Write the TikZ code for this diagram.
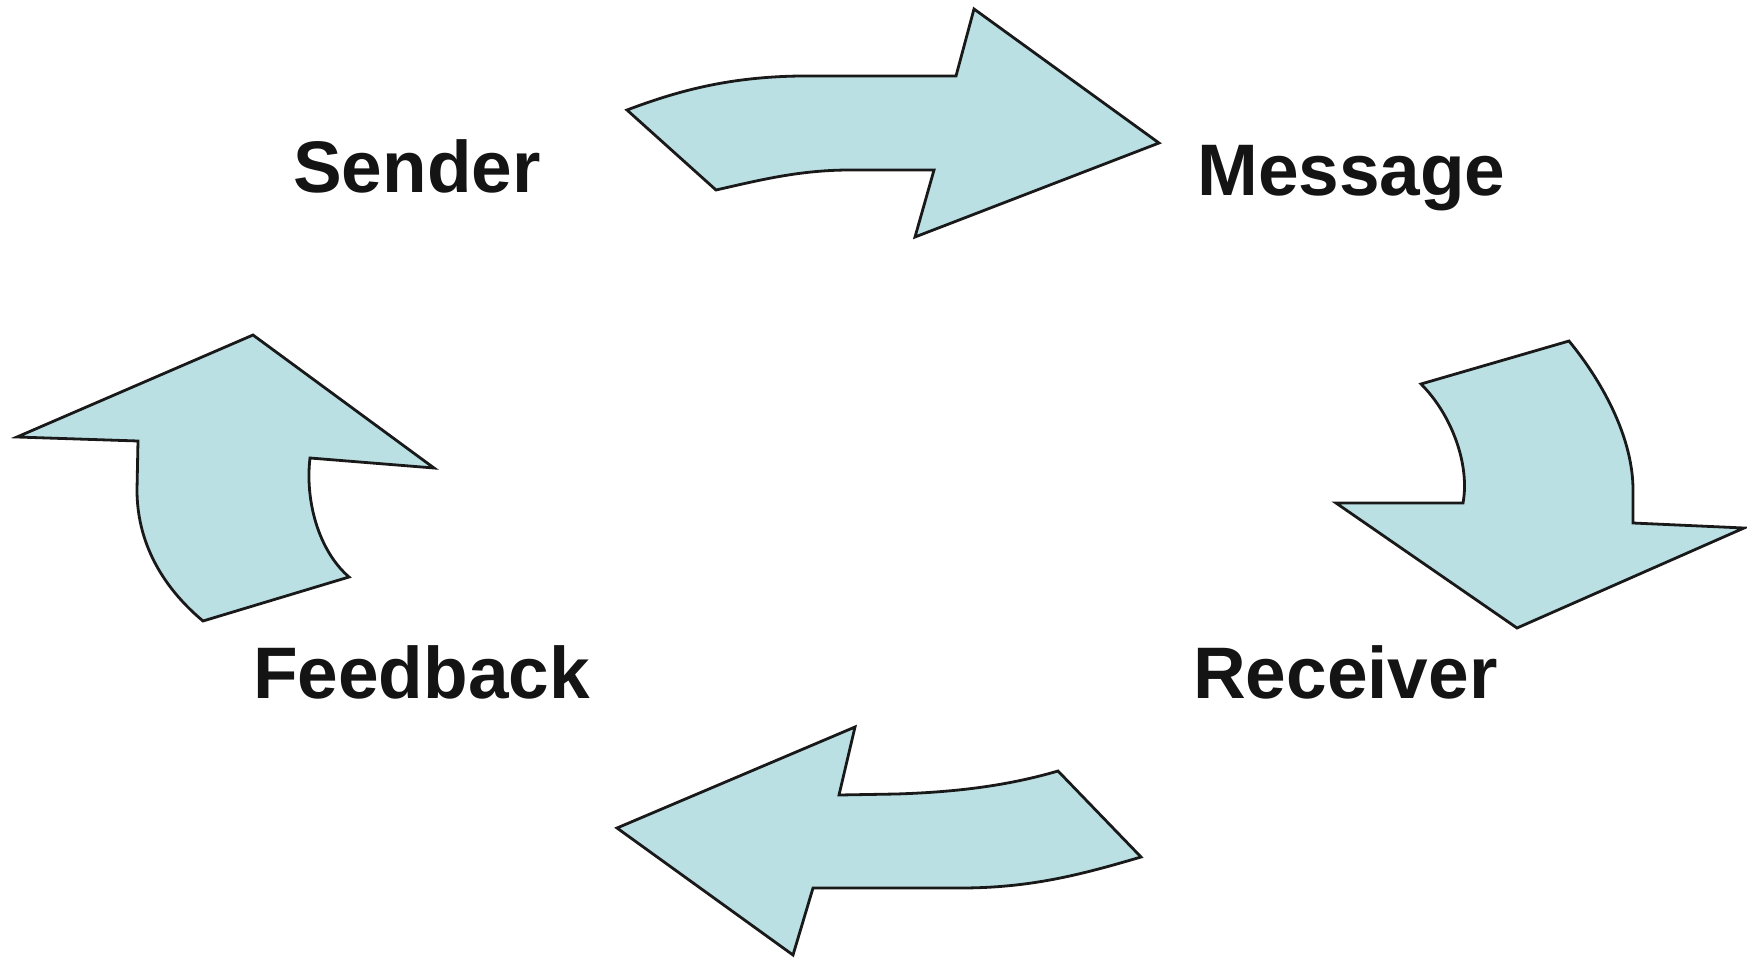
\documentclass[tikz,border=0pt]{standalone}
\usepackage{fontspec}
\setmainfont{Liberation Sans}
\definecolor{arrowfill}{RGB}{186,224,228}
\definecolor{labeltext}{RGB}{20,20,20}
\tikzset{
  arrowshape/.style={draw=black!90, line width=2.8pt, fill=arrowfill, line join=miter},
  lbl/.style={font=\fontsize{73}{80}\selectfont\bfseries, text=labeltext, inner sep=0pt, anchor=base west}
}
\begin{document}
\begin{tikzpicture}[x=1pt,y=-1pt]
\useasboundingbox (0,0) rectangle (1747,958);
% top arrow (Sender -> Message)
\draw[arrowshape] (627,110) .. controls (680,90) and (730,77) .. (800,76) -- (956,76) -- (974,9) -- (1159,143) -- (915,237) -- (934,170) -- (850,170) .. controls (800,170) and (760,180) .. (716,190) -- cycle;
% right arrow (Message -> Receiver)
\draw[arrowshape] (1421,384) -- (1569,341) .. controls (1605,385) and (1633,440) .. (1633,490) -- (1633,523) -- (1744,528) -- (1517,628) -- (1336,503) -- (1463,503) .. controls (1470,465) and (1452,415) .. (1421,384) -- cycle;
% bottom arrow (Receiver -> Feedback)
\draw[arrowshape] (617,828) -- (855,727) -- (839,795) -- (896,794) .. controls (960,792) and (1010,785) .. (1058,771) -- (1141,857) .. controls (1080,875) and (1030,888) .. (960,888) -- (813,888) -- (793,955) -- cycle;
% left arrow (Feedback -> Sender)
\draw[arrowshape] (17,437) -- (253,335) -- (434,468) -- (310,458) .. controls (305,500) and (318,550) .. (349,577) -- (203,621) .. controls (160,585) and (137,540) .. (137,490) -- (138,441) -- cycle;
% labels
\node[lbl] (sender) at (293,192) {Sender};
\node[lbl] (message) at (1197,195) {Message};
\node[lbl] (feedback) at (253,698) {Feedback};
\node[lbl] (receiver) at (1193,698) {Receiver};
\end{tikzpicture}
\end{document}
